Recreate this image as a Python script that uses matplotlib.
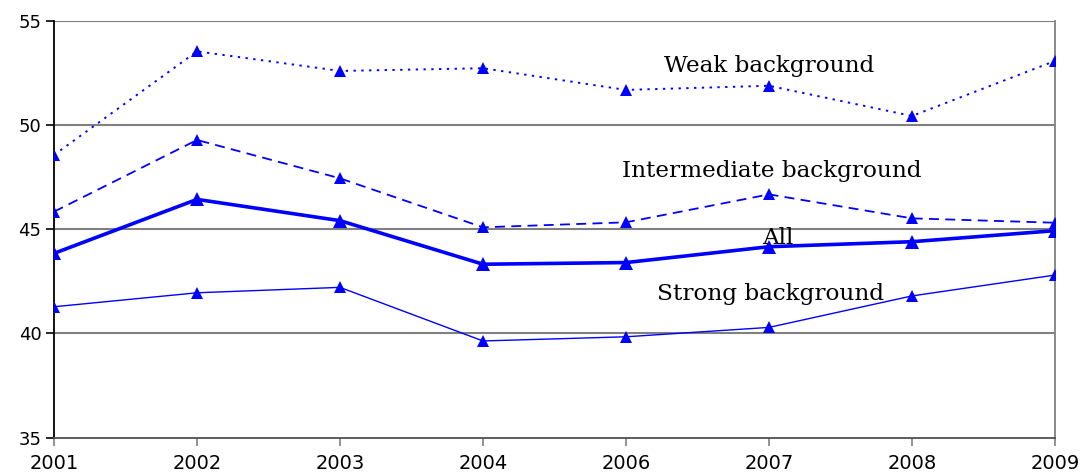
import matplotlib
matplotlib.use("Agg")
import matplotlib.pyplot as plt

years = ["2001", "2002", "2003", "2004", "2006", "2007", "2008", "2009"]
weak = [48.56, 53.53, 52.59, 52.72, 51.68, 51.88, 50.43, 53.07]
intermediate = [45.84, 49.28, 47.44, 45.09, 45.33, 46.67, 45.52, 45.31]
all_groups = [43.84, 46.43, 45.41, 43.32, 43.40, 44.16, 44.40, 44.93]
strong = [41.28, 41.95, 42.21, 39.64, 39.84, 40.29, 41.80, 42.80]
y_ticks = [35, 40, 45, 50, 55]

blue = "#0000ff"
grey = "#808080"

fig = plt.figure(figsize=(10.86, 4.75), dpi=100)
ax = fig.add_axes([54 / 1086, 1 - 437.7 / 475, (1055 - 54) / 1086, (437.7 - 20.7) / 475])

x = list(range(len(years)))

ax.plot(x, weak, color=blue, lw=1.4, linestyle=(0, (1.2, 2.8)),
        marker="^", ms=8, markeredgewidth=0, zorder=3)
ax.plot(x, intermediate, color=blue, lw=1.3, linestyle=(0, (5.5, 3.5)),
        marker="^", ms=8, markeredgewidth=0, zorder=3)
ax.plot(x, all_groups, color=blue, lw=2.6, linestyle="-",
        marker="^", ms=10, markeredgewidth=0, zorder=3)
ax.plot(x, strong, color=blue, lw=1.0, linestyle="-",
        marker="^", ms=8, markeredgewidth=0, zorder=3)

ax.set_xlim(0, len(years) - 1)
ax.set_ylim(35, 55)
ax.set_xticks(x)
ax.set_xticklabels(years, fontsize=14, family="DejaVu Sans")
ax.set_yticks(y_ticks)
ax.set_yticklabels([str(v) for v in y_ticks], fontsize=13, family="DejaVu Sans")

for v in y_ticks[1:]:
    ax.axhline(v, color=grey, lw=1.5, zorder=1)

ax.spines["left"].set_color("black")
ax.spines["left"].set_linewidth(1.3)
ax.spines["bottom"].set_color("#505050")
ax.spines["bottom"].set_linewidth(1.3)
ax.spines["right"].set_color(grey)
ax.spines["right"].set_linewidth(1.3)
ax.spines["top"].set_visible(False)

ax.tick_params(axis="x", direction="out", length=6, width=1.2, color=grey, pad=6)
ax.tick_params(axis="y", direction="out", length=6, width=1.2, color="black", pad=3)

label_font = dict(family="DejaVu Serif", fontsize=16.7, color="black", ha="center", va="baseline")
ax.text(5.0, 55 - (72 - 20.7) / 20.85, "Weak background", **label_font)
ax.text(5.02, 55 - (177 - 20.7) / 20.85, "Intermediate background", **label_font)
ax.text(5.06, 55 - (244 - 20.7) / 20.85, "All", **label_font)
ax.text(5.01, 55 - (300 - 20.7) / 20.85, "Strong background", **label_font)

fig.savefig("out.png", dpi=100)
